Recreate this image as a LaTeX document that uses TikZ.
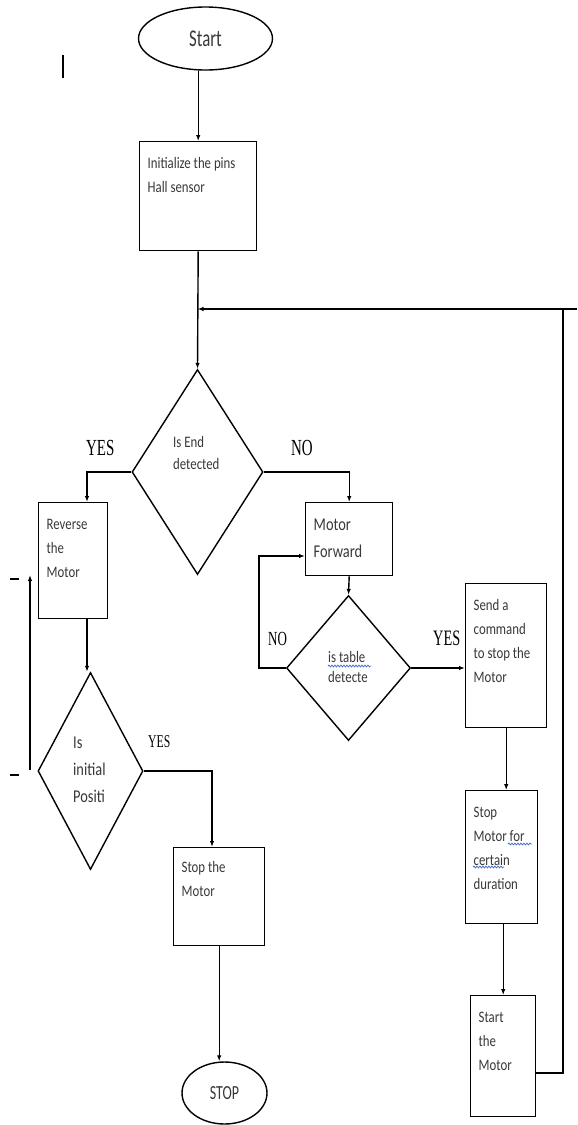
\documentclass[tikz,border=0pt]{standalone}
\usepackage{fontspec}
\usetikzlibrary{shapes.geometric,arrows.meta,decorations.pathmorphing}
\newfontfamily\flowfont[FakeStretch=0.8]{Carlito}
\newfontfamily\termfont[FakeStretch=0.7]{Carlito}
\newfontfamily\labfont[FakeStretch=0.65]{Liberation Serif}
\definecolor{txt}{HTML}{383838}
\definecolor{wavy}{HTML}{4A6FC8}
\newcommand{\boxtxt}[4]{\parbox[c][#2][t]{#1}{\raggedright\leftskip=8pt\relax\rule{0pt}{#3}#4}}
\newcommand{\dtxt}[2]{\parbox[t]{#1}{\raggedright #2}}
\begin{document}
\begin{tikzpicture}[x=1pt,y=-1pt,
  box/.style={draw, line width=1.4pt, inner sep=0pt, anchor=north west, text=txt,
    font=\flowfont\fontsize{16}{24}\selectfont},
  term/.style={draw, ellipse, line width=1.4pt, inner sep=0pt, text=txt},
  dec/.style={draw, diamond, line width=1.4pt, inner sep=0pt},
  dt/.style={inner sep=0pt, anchor=base west, text=txt},
  lab/.style={inner sep=0pt, anchor=base west, text=black},
  ln/.style={line width=1.4pt},
  arrow/.style={line width=1.4pt, -{Latex[length=6pt,width=4.5pt]}},
  wav/.style={wavy, line width=0.8pt, decorate, decoration={snake, amplitude=0.9pt, segment length=3pt}}]
\useasboundingbox (0,0) rectangle (578,1125);

% terminals
\node[term, minimum width=134pt, minimum height=63pt,
  font=\termfont\fontsize{24}{28}\selectfont] (start) at (205.5,38.5) {Start};
\node[term, minimum width=85pt, minimum height=62pt,
  font=\termfont\fontsize{20}{24}\selectfont] (stop) at (224.5,1093) {STOP};

% process boxes
\node[box] (init) at (139,141) {\boxtxt{117pt}{109pt}{27pt}{Initialize the pins\\Hall sensor}};
\node[box] (rev) at (38,502) {\boxtxt{69pt}{116pt}{27pt}{Reverse\\the\\Motor}};
\node[box, font=\flowfont\fontsize{18}{27}\selectfont] (fwd) at (305,502) {\boxtxt{87pt}{73pt}{28pt}{Motor\\Forward}};
\node[box] (send) at (465,583) {\boxtxt{81pt}{144pt}{27pt}{Send a\\command\\to stop the\\Motor}};
\node[box] (sfor) at (465,790) {\boxtxt{72pt}{133pt}{27pt}{Stop\\Motor for\\certain\\duration}};
\node[box] (smot) at (470,995) {\boxtxt{65pt}{121pt}{27pt}{Start\\the\\Motor}};
\node[box] (stopm) at (173,847) {\boxtxt{91pt}{98pt}{25pt}{Stop the\\Motor}};

% decisions
\node[dec, minimum width=131pt, minimum height=205pt] (d1) at (197.5,472) {};
\node[dec, minimum width=124pt, minimum height=145pt] (d2) at (348.5,668) {};
\node[dec, minimum width=105pt, minimum height=197pt] (d3) at (90.5,771) {};

\node[dt, font=\flowfont\fontsize{16}{22}\selectfont] (t1) at (173,447) {\dtxt{60pt}{Is End\\detected}};
\node[dt, font=\flowfont\fontsize{16}{20}\selectfont] (t2) at (328,662) {\dtxt{60pt}{is table\\detecte}};
\node[dt, font=\flowfont\fontsize{18}{27}\selectfont] (t3) at (73,748) {\dtxt{50pt}{Is\\initial\\Positi}};

% labels
\node[lab, font=\labfont\fontsize{23}{26}\selectfont] (yes1) at (86,455) {YES};
\node[lab, font=\labfont\fontsize{23}{26}\selectfont] (no1) at (291,455) {NO};
\node[lab, font=\labfont\fontsize{20}{24}\selectfont] (no2) at (268,645) {NO};
\node[lab, font=\labfont\fontsize{22}{26}\selectfont] (yes2) at (433,645) {YES};
\node[lab, font=\labfont\fontsize{18}{22}\selectfont] (yes3) at (148,747) {YES};

% coordinates
\coordinate (j) at (197.5,309);
\coordinate (revin) at (87,502);
\coordinate (lp) at (259,556);
\coordinate (fwdin) at (305,556);
\coordinate (r1) at (563,1073);
\coordinate (r2) at (563,309);
\coordinate (r3) at (577,309);
\coordinate (lb) at (30,770);
\coordinate (lt) at (30,575);
\coordinate (stin) at (212,847);

% connectors
\draw[arrow] (init.north |- start.south) -- (init.north);
\draw[arrow] (init.south) -- (d1.north);
\draw[arrow] (r3) -- (j);
\draw[ln] (smot.east |- r1) -- (r1) -- (r2);
\draw[arrow] (d1.west) -| (revin);
\draw[arrow] (d1.east) -| (fwd.north);
\draw[arrow] (fwd.south) -- (d2.north);
\draw[arrow] (d2.west) -| (lp) -- (fwdin);
\draw[arrow] (d2.east) -- (d2.east -| send.west);
\draw[arrow] (send.south) -- (send.south |- sfor.north);
\draw[arrow] (smot.north |- sfor.south) -- (smot.north);
\draw[arrow] (revin |- rev.south) -- (revin |- d3.north);
\draw[arrow] (lb) -- (lt);
\draw[arrow] (d3.east) -| (stin);
\draw[arrow] (stopm.south) -- (stopm.south |- stop.north);

% spell-check wavy underlines
\draw[wav] (328,666) -- (371,666);
\draw[wav] (508,844) -- (532,844);
\draw[wav] (473,867) -- (504,867);

% stray marks
\draw[line width=1.4pt] (63,55) -- (63,78);
\draw[line width=1.4pt] (10,579) -- (19,579);
\draw[line width=1.4pt] (10,775) -- (19,775);
\end{tikzpicture}
\end{document}
